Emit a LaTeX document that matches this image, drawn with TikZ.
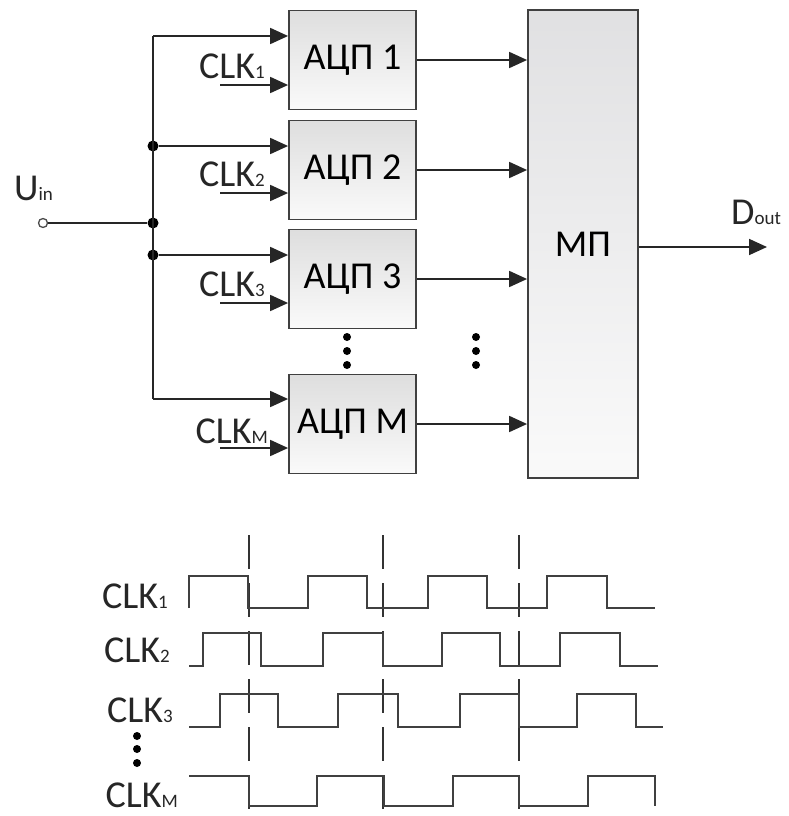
\documentclass[tikz,border=0pt]{standalone}
\usepackage{fontspec}
\setmainfont{Carlito}
\usetikzlibrary{arrows.meta,positioning}
\newcommand{\idx}[1]{{\fontsize{19}{20}\selectfont #1}}

\begin{document}
\begin{tikzpicture}[
  x=1pt, y=-1pt,
  font=\fontsize{38}{42}\selectfont,
  wire/.style={line width=1.8pt, draw=black!85},
  arr/.style={wire, -{Triangle[length=18pt, width=16pt]}},
  adc/.style={draw=black!75, line width=1.8pt, top color=black!13, bottom color=black!2,
    minimum width=127pt, minimum height=99pt, inner sep=0pt},
  mux/.style={adc, top color=blue!6!black!12, minimum width=110pt, minimum height=468pt},
  junc/.style={circle, fill=black, inner sep=0pt, minimum size=11pt},
  vdot/.style={circle, fill=black, inner sep=0pt, minimum size=8pt},
  lbl/.style={inner sep=0pt, text=black!85},
  wave/.style={line width=1.8pt, draw=black!75},
  tick/.style={line width=1.5pt, draw=black!80, dash pattern=on 34pt off 14pt}
]
\useasboundingbox (0,0) rectangle (789,816);

% ADC blocks and multiplexer
\node[adc] (adc1) at (352.5,60) {АЦП 1};
\node[adc] (adc2) at (352.5,170) {АЦП 2};
\node[adc] (adc3) at (352.5,279) {АЦП 3};
\node[adc] (adcm) at (352.5,424) {АЦП M};
\node[mux] (mp) at (583,244) {МП};

% input bus
\node[circle, draw=black!70, line width=1.3pt, minimum size=9pt, inner sep=0pt] (uin) at (43,223) {};
\node[lbl, anchor=base west] (uinlbl) at (14,200) {U\idx{in}};
\coordinate (b1) at (153,36);
\node[junc] (b2) at (153,146) {};
\node[junc] (bin) at (153,223) {};
\node[junc] (b3) at (153,255) {};
\coordinate (bm) at (153,399);
\draw[wire] (uin) -- (bin);
\draw[wire] (b1) -- (bm);
\draw[arr] (b1) -- (b1 -| adc1.west);
\draw[arr] (b2) -- (b2 -| adc2.west);
\draw[arr] (b3) -- (b3 -| adc3.west);
\draw[arr] (bm) -- (bm -| adcm.west);

% clock inputs
\coordinate (c1) at (220,85);
\coordinate (c2) at (220,193);
\coordinate (c3) at (220,303);
\coordinate (cm) at (220,448);
\draw[arr] (c1) -- (c1 -| adc1.west);
\draw[arr] (c2) -- (c2 -| adc2.west);
\draw[arr] (c3) -- (c3 -| adc3.west);
\draw[arr] (cm) -- (cm -| adcm.west);
\node[lbl, anchor=base east] (clk1) at (265,78) {CLK\idx{1}};
\node[lbl, anchor=base east] (clk2) at (265,186) {CLK\idx{2}};
\node[lbl, anchor=base east] (clk3) at (265,296) {CLK\idx{3}};
\node[lbl, anchor=base east] (clkm) at (268,443) {CLK\idx{M}};

% outputs
\draw[arr] (adc1.east) -- (adc1.east -| mp.west);
\draw[arr] (adc2.east) -- (adc2.east -| mp.west);
\draw[arr] (adc3.east) -- (adc3.east -| mp.west);
\draw[arr] (adcm.east) -- (adcm.east -| mp.west);
\coordinate (dout) at (767,247);
\draw[arr] (mp.east |- dout) -- (dout);
\node[lbl, anchor=base west] (doutlbl) at (731,224) {D\idx{out}};

% ellipses
\foreach \y in {337,351,365} {
  \node[vdot] at (347,\y) {};
  \node[vdot] at (476,\y) {};
}

% timing diagram
\foreach \x in {249,383,519}
  \draw[tick] (\x,535) -- (\x,816);
\draw[wave] (189,608) -- (189,576) -- (248,576) -- (248,608) -- (308,608) -- (308,576)
  -- (367,576) -- (367,608) -- (428,608) -- (428,576) -- (487,576) -- (487,608)
  -- (547,608) -- (547,576) -- (607,576) -- (607,608) -- (655,608);
\draw[wave] (189,666) -- (203,666) -- (203,633) -- (261,633) -- (261,666) -- (323,666)
  -- (323,633) -- (383,633) -- (383,666) -- (442,666) -- (442,633) -- (500,633)
  -- (500,666) -- (560,666) -- (560,633) -- (620,633) -- (620,666) -- (658,666);
\draw[wave] (189,727) -- (220,727) -- (220,694) -- (278,694) -- (278,727) -- (338,727)
  -- (338,694) -- (398,694) -- (398,727) -- (460,727) -- (460,694) -- (519,694)
  -- (519,727) -- (577,727) -- (577,694) -- (636,694) -- (636,727) -- (663,727);
\draw[wave] (189,776) -- (249,776) -- (249,806) -- (317,806) -- (317,776) -- (384,776)
  -- (384,806) -- (453,806) -- (453,776) -- (519,776) -- (519,806) -- (588,806)
  -- (588,776) -- (655,776) -- (655,806);
\node[lbl, anchor=base east] (t1) at (168,608) {CLK\idx{1}};
\node[lbl, anchor=base east] (t2) at (170,662) {CLK\idx{2}};
\node[lbl, anchor=base east] (t3) at (173,722) {CLK\idx{3}};
\node[lbl, anchor=base east] (tm) at (178,807) {CLK\idx{M}};
\foreach \y in {736,749,763}
  \node[vdot] at (137,\y) {};
\end{tikzpicture}
\end{document}
